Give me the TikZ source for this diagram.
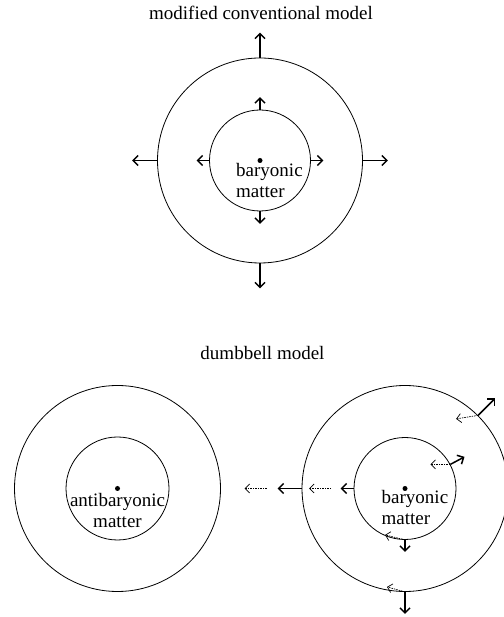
\documentclass[tikz,border=0pt]{standalone}
\usepackage{fontspec}
\setmainfont{Liberation Serif}
\usetikzlibrary{arrows.meta,calc}

\tikzset{
 ring/.style={draw,circle,inner sep=0pt,line width=.8pt},
 core/.style={circle,fill,inner sep=0pt,minimum size=5pt},
 push/.style={line width=1.5pt,-{Straight Barb[length=5pt,width=10pt]}},
 pull/.style={line width=.7pt,dash pattern=on 1.5pt off 1pt,-{Straight Barb[length=4.5pt,width=9pt]}},
}

\begin{document}
\begin{tikzpicture}[x=1pt,y=1pt,font=\fontsize{19}{21.5}\selectfont]
\useasboundingbox (0,0) rectangle (503,617);
\node[anchor=base] (t1) at (261,597) {modified conventional model};
\node[ring,minimum size=205pt] (o1) at (260,456.5) {};
\node[ring,minimum size=101pt] (i1) at (260,456.5) {};
\node[core] (d1) at (260,456.5) {};
\node[anchor=base west,align=left,inner sep=0pt] (b1) at ($(d1)+(-24,-37.5)$) {baryonic\\matter};
\foreach \a in {0,90,180,270}{
 \draw[push] (o1.\a) -- ++(\a:25) coordinate (o1e\a);
 \draw[push] (i1.\a) -- ++(\a:12.5) coordinate (i1e\a);
}
\node[anchor=base] (t2) at (262.5,257) {dumbbell model};
\node[ring,minimum size=206pt] (o2) at (117.5,128.5) {};
\node[ring,minimum size=103pt] (i2) at (117.5,128.5) {};
\node[core] (d2) at (117.5,128.5) {};
\node[anchor=base,align=center,inner sep=0pt] (a2) at ($(d2)+(0,-39.2)$) {antibaryonic\\matter};
\node[ring,minimum size=206pt] (o3) at (405,128.5) {};
\node[ring,minimum size=102pt] (i3) at (405,128.5) {};
\node[core] (d3) at (405,128.5) {};
\node[anchor=base west,align=left,inner sep=0pt] (b3) at ($(d3)+(-23.5,-36.5)$) {baryonic\\matter};
\draw[push] (o3.180) -- ++(-24,0) coordinate (o3w);
\draw[pull] ($(o3.180)+(-35,0)$) coordinate (f1) -- ++(-22,0) coordinate (f2);
\draw[push] (i3.180) -- ++(-13,0) coordinate (i3w);
\draw[pull] ($(i3.180)+(-22.5,0)$) coordinate (f3) -- ++(-22,0) coordinate (f4);
\draw[push] (o3.45) -- ++(45:24) coordinate (o3ne);
\draw[pull] (o3.45) -- ++(-22,-3.5) coordinate (f5);
\draw[push] (i3.28) -- ++(28:16) coordinate (i3ne);
\draw[pull] (i3.28) -- ++(-20,0) coordinate (f6);
\draw[push] (i3.270) -- ++(0,-12) coordinate (i3s);
\draw[pull] (i3.270) -- ++(-20,5) coordinate (f7);
\draw[push] (o3.270) -- ++(0,-22) coordinate (o3s);
\draw[pull] (o3.270) -- ++(-18,5) coordinate (f8);
\end{tikzpicture}
\end{document}
